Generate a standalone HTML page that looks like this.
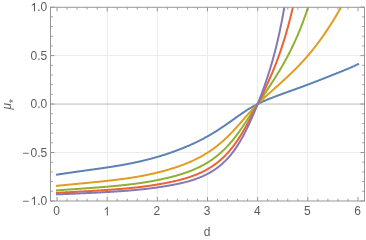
<!DOCTYPE html>
<html><head><meta charset="utf-8"><title>plot</title>
<style>html,body{margin:0;padding:0;background:#fff;}svg{display:block;}</style>
</head><body><div style="will-change:transform;width:366px;height:240px">
<svg width="366" height="240" viewBox="0 0 366 240">
<rect width="366" height="240" fill="#fff"/>
<defs><clipPath id="c"><rect x="50.50" y="7.30" width="314.00" height="193.70"/></clipPath></defs>
<path d="M107.5,7.30 V201.00 M157.5,7.30 V201.00 M207.5,7.30 V201.00 M257.5,7.30 V201.00 M307.5,7.30 V201.00 M50.50,152.5 H364.50 M50.50,55.5 H364.50" stroke="#ececec" stroke-width="1" fill="none"/>
<path d="M50.50,104.05 H364.50" stroke="#bbbbbb" stroke-width="1" fill="none"/>
<g clip-path="url(#c)" fill="none" stroke-width="2.0" stroke-linejoin="round" stroke-linecap="square">
<path d="M57.00,174.63 L57.50,174.55 L58.00,174.47 L58.51,174.39 L59.01,174.32 L59.51,174.24 L60.01,174.16 L60.51,174.09 L61.01,174.01 L61.52,173.94 L62.02,173.86 L62.52,173.79 L63.02,173.71 L63.52,173.64 L64.02,173.56 L64.53,173.49 L65.03,173.41 L65.53,173.34 L66.03,173.26 L66.53,173.19 L67.03,173.12 L67.53,173.04 L68.04,172.97 L68.54,172.90 L69.04,172.82 L69.54,172.75 L70.04,172.68 L70.55,172.61 L71.05,172.53 L71.55,172.46 L72.05,172.39 L72.55,172.32 L73.05,172.25 L73.56,172.18 L74.06,172.10 L74.56,172.03 L75.06,171.96 L75.56,171.89 L76.06,171.82 L76.56,171.75 L77.07,171.68 L77.57,171.61 L78.07,171.54 L78.57,171.47 L79.07,171.40 L79.58,171.33 L80.08,171.26 L80.58,171.19 L81.08,171.12 L81.58,171.05 L82.08,170.98 L82.59,170.91 L83.09,170.84 L83.59,170.77 L84.09,170.70 L84.59,170.63 L85.09,170.56 L85.59,170.49 L86.10,170.42 L86.60,170.35 L87.10,170.28 L87.60,170.21 L88.10,170.14 L88.61,170.07 L89.11,170.00 L89.61,169.93 L90.11,169.86 L90.61,169.79 L91.11,169.72 L91.62,169.65 L92.12,169.59 L92.62,169.52 L93.12,169.45 L93.62,169.38 L94.12,169.31 L94.62,169.23 L95.13,169.16 L95.63,169.09 L96.13,169.02 L96.63,168.95 L97.13,168.88 L97.63,168.81 L98.14,168.74 L98.64,168.67 L99.14,168.60 L99.64,168.53 L100.14,168.45 L100.64,168.38 L101.15,168.31 L101.65,168.24 L102.15,168.16 L102.65,168.09 L103.15,168.02 L103.66,167.95 L104.16,167.87 L104.66,167.80 L105.16,167.72 L105.66,167.65 L106.16,167.58 L106.66,167.50 L107.17,167.42 L107.67,167.35 L108.17,167.27 L108.67,167.20 L109.17,167.12 L109.67,167.04 L110.18,166.97 L110.68,166.89 L111.18,166.81 L111.68,166.73 L112.18,166.65 L112.69,166.57 L113.19,166.50 L113.69,166.42 L114.19,166.33 L114.69,166.25 L115.19,166.17 L115.69,166.09 L116.20,166.01 L116.70,165.93 L117.20,165.84 L117.70,165.76 L118.20,165.68 L118.70,165.59 L119.21,165.51 L119.71,165.42 L120.21,165.33 L120.71,165.25 L121.21,165.16 L121.72,165.07 L122.22,164.99 L122.72,164.90 L123.22,164.81 L123.72,164.72 L124.22,164.63 L124.72,164.54 L125.23,164.44 L125.73,164.35 L126.23,164.26 L126.73,164.16 L127.23,164.07 L127.73,163.97 L128.24,163.88 L128.74,163.78 L129.24,163.68 L129.74,163.59 L130.24,163.49 L130.75,163.39 L131.25,163.29 L131.75,163.19 L132.25,163.09 L132.75,162.98 L133.25,162.88 L133.75,162.78 L134.26,162.67 L134.76,162.57 L135.26,162.46 L135.76,162.35 L136.26,162.24 L136.76,162.13 L137.27,162.02 L137.77,161.91 L138.27,161.80 L138.77,161.69 L139.27,161.58 L139.78,161.46 L140.28,161.35 L140.78,161.23 L141.28,161.12 L141.78,161.00 L142.28,160.88 L142.78,160.76 L143.29,160.64 L143.79,160.52 L144.29,160.40 L144.79,160.28 L145.29,160.15 L145.80,160.03 L146.30,159.90 L146.80,159.78 L147.30,159.65 L147.80,159.52 L148.30,159.39 L148.81,159.26 L149.31,159.13 L149.81,159.00 L150.31,158.87 L150.81,158.73 L151.31,158.60 L151.81,158.47 L152.32,158.33 L152.82,158.19 L153.32,158.05 L153.82,157.91 L154.32,157.77 L154.82,157.63 L155.33,157.49 L155.83,157.35 L156.33,157.20 L156.83,157.06 L157.33,156.91 L157.84,156.77 L158.34,156.62 L158.84,156.47 L159.34,156.32 L159.84,156.17 L160.34,156.02 L160.84,155.86 L161.35,155.71 L161.85,155.56 L162.35,155.40 L162.85,155.24 L163.35,155.08 L163.85,154.93 L164.36,154.77 L164.86,154.60 L165.36,154.44 L165.86,154.28 L166.36,154.11 L166.87,153.95 L167.37,153.78 L167.87,153.62 L168.37,153.45 L168.87,153.28 L169.37,153.11 L169.88,152.94 L170.38,152.76 L170.88,152.59 L171.38,152.41 L171.88,152.24 L172.38,152.06 L172.88,151.88 L173.39,151.70 L173.89,151.52 L174.39,151.34 L174.89,151.16 L175.39,150.97 L175.89,150.79 L176.40,150.60 L176.90,150.42 L177.40,150.23 L177.90,150.04 L178.40,149.85 L178.91,149.65 L179.41,149.46 L179.91,149.27 L180.41,149.07 L180.91,148.87 L181.41,148.68 L181.92,148.48 L182.42,148.28 L182.92,148.07 L183.42,147.87 L183.92,147.67 L184.42,147.46 L184.93,147.25 L185.43,147.05 L185.93,146.84 L186.43,146.62 L186.93,146.41 L187.43,146.20 L187.93,145.98 L188.44,145.77 L188.94,145.55 L189.44,145.33 L189.94,145.11 L190.44,144.89 L190.94,144.66 L191.45,144.44 L191.95,144.21 L192.45,143.98 L192.95,143.75 L193.45,143.52 L193.95,143.29 L194.46,143.06 L194.96,142.82 L195.46,142.58 L195.96,142.34 L196.46,142.10 L196.97,141.86 L197.47,141.61 L197.97,141.37 L198.47,141.12 L198.97,140.87 L199.47,140.62 L199.97,140.37 L200.48,140.11 L200.98,139.86 L201.48,139.60 L201.98,139.34 L202.48,139.08 L202.99,138.81 L203.49,138.55 L203.99,138.28 L204.49,138.01 L204.99,137.74 L205.49,137.47 L206.00,137.19 L206.50,136.91 L207.00,136.64 L207.50,136.35 L208.00,136.07 L208.50,135.79 L209.00,135.50 L209.51,135.21 L210.01,134.92 L210.51,134.63 L211.01,134.33 L211.51,134.04 L212.01,133.74 L212.52,133.44 L213.02,133.13 L213.52,132.83 L214.02,132.52 L214.52,132.21 L215.02,131.90 L215.53,131.59 L216.03,131.28 L216.53,130.96 L217.03,130.64 L217.53,130.33 L218.03,130.00 L218.54,129.68 L219.04,129.36 L219.54,129.03 L220.04,128.70 L220.54,128.37 L221.04,128.04 L221.55,127.71 L222.05,127.37 L222.55,127.03 L223.05,126.70 L223.55,126.36 L224.06,126.02 L224.56,125.67 L225.06,125.33 L225.56,124.98 L226.06,124.64 L226.56,124.29 L227.06,123.94 L227.57,123.59 L228.07,123.24 L228.57,122.89 L229.07,122.54 L229.57,122.18 L230.07,121.83 L230.58,121.47 L231.08,121.12 L231.58,120.76 L232.08,120.40 L232.58,120.05 L233.09,119.69 L233.59,119.33 L234.09,118.97 L234.59,118.61 L235.09,118.26 L235.59,117.90 L236.09,117.54 L236.60,117.18 L237.10,116.83 L237.60,116.47 L238.10,116.12 L238.60,115.76 L239.10,115.41 L239.61,115.06 L240.11,114.71 L240.61,114.36 L241.11,114.01 L241.61,113.66 L242.11,113.32 L242.62,112.98 L243.12,112.64 L243.62,112.30 L244.12,111.96 L244.62,111.63 L245.12,111.29 L245.63,110.97 L246.13,110.64 L246.63,110.32 L247.13,109.99 L247.63,109.68 L248.13,109.36 L248.64,109.05 L249.14,108.74 L249.64,108.43 L250.14,108.13 L250.64,107.83 L251.15,107.54 L251.65,107.24 L252.15,106.95 L252.65,106.67 L253.15,106.39 L253.65,106.11 L254.16,105.83 L254.66,105.56 L255.16,105.29 L255.66,105.03 L256.16,104.77 L256.66,104.51 L257.16,104.25 L257.67,104.00 L258.17,103.75 L258.67,103.51 L259.17,103.26 L259.67,103.02 L260.17,102.79 L260.68,102.55 L261.18,102.32 L261.68,102.09 L262.18,101.86 L262.68,101.64 L263.19,101.41 L263.69,101.19 L264.19,100.98 L264.69,100.76 L265.19,100.54 L265.69,100.33 L266.19,100.12 L266.70,99.91 L267.20,99.70 L267.70,99.50 L268.20,99.29 L268.70,99.09 L269.21,98.89 L269.71,98.69 L270.21,98.49 L270.71,98.29 L271.21,98.09 L271.71,97.89 L272.22,97.70 L272.72,97.50 L273.22,97.31 L273.72,97.12 L274.22,96.92 L274.72,96.73 L275.23,96.54 L275.73,96.35 L276.23,96.16 L276.73,95.97 L277.23,95.78 L277.73,95.60 L278.24,95.41 L278.74,95.22 L279.24,95.04 L279.74,94.85 L280.24,94.66 L280.74,94.48 L281.25,94.29 L281.75,94.11 L282.25,93.92 L282.75,93.74 L283.25,93.56 L283.75,93.37 L284.25,93.19 L284.76,93.01 L285.26,92.83 L285.76,92.64 L286.26,92.46 L286.76,92.28 L287.26,92.10 L287.77,91.92 L288.27,91.74 L288.77,91.56 L289.27,91.38 L289.77,91.20 L290.27,91.02 L290.78,90.84 L291.28,90.66 L291.78,90.47 L292.28,90.29 L292.78,90.11 L293.28,89.93 L293.79,89.75 L294.29,89.57 L294.79,89.39 L295.29,89.21 L295.79,89.03 L296.30,88.85 L296.80,88.67 L297.30,88.48 L297.80,88.30 L298.30,88.12 L298.80,87.94 L299.30,87.75 L299.81,87.57 L300.31,87.39 L300.81,87.20 L301.31,87.02 L301.81,86.84 L302.31,86.65 L302.82,86.47 L303.32,86.28 L303.82,86.09 L304.32,85.91 L304.82,85.72 L305.32,85.54 L305.83,85.35 L306.33,85.16 L306.83,84.97 L307.33,84.79 L307.83,84.60 L308.33,84.41 L308.84,84.22 L309.34,84.03 L309.84,83.84 L310.34,83.65 L310.84,83.46 L311.35,83.27 L311.85,83.08 L312.35,82.89 L312.85,82.70 L313.35,82.50 L313.85,82.31 L314.35,82.12 L314.86,81.93 L315.36,81.73 L315.86,81.54 L316.36,81.34 L316.86,81.15 L317.37,80.96 L317.87,80.76 L318.37,80.56 L318.87,80.37 L319.37,80.17 L319.87,79.98 L320.38,79.78 L320.88,79.58 L321.38,79.39 L321.88,79.19 L322.38,78.99 L322.88,78.80 L323.38,78.60 L323.89,78.40 L324.39,78.20 L324.89,78.00 L325.39,77.80 L325.89,77.61 L326.39,77.41 L326.90,77.21 L327.40,77.01 L327.90,76.81 L328.40,76.61 L328.90,76.41 L329.40,76.21 L329.91,76.01 L330.41,75.81 L330.91,75.61 L331.41,75.41 L331.91,75.22 L332.42,75.02 L332.92,74.82 L333.42,74.62 L333.92,74.42 L334.42,74.22 L334.92,74.02 L335.42,73.82 L335.93,73.62 L336.43,73.42 L336.93,73.22 L337.43,73.02 L337.93,72.82 L338.44,72.62 L338.94,72.42 L339.44,72.22 L339.94,72.02 L340.44,71.82 L340.94,71.62 L341.44,71.41 L341.95,71.21 L342.45,71.01 L342.95,70.80 L343.45,70.60 L343.95,70.39 L344.45,70.19 L344.96,69.98 L345.46,69.78 L345.96,69.57 L346.46,69.36 L346.96,69.15 L347.46,68.94 L347.97,68.73 L348.47,68.52 L348.97,68.30 L349.47,68.09 L349.97,67.87 L350.48,67.66 L350.98,67.44 L351.48,67.22 L351.98,67.00 L352.48,66.77 L352.98,66.55 L353.49,66.32 L353.99,66.10 L354.49,65.87 L354.99,65.63 L355.49,65.40 L355.99,65.16 L356.49,64.93 L357.00,64.69 L357.50,64.45 L358.00,64.20" stroke="#5E81B5"/>
<path d="M57.00,185.80 L57.50,185.75 L58.00,185.70 L58.51,185.65 L59.01,185.60 L59.51,185.55 L60.01,185.50 L60.51,185.45 L61.01,185.40 L61.52,185.35 L62.02,185.31 L62.52,185.26 L63.02,185.21 L63.52,185.16 L64.02,185.11 L64.53,185.06 L65.03,185.01 L65.53,184.96 L66.03,184.91 L66.53,184.87 L67.03,184.82 L67.53,184.77 L68.04,184.72 L68.54,184.67 L69.04,184.62 L69.54,184.58 L70.04,184.53 L70.55,184.48 L71.05,184.43 L71.55,184.38 L72.05,184.34 L72.55,184.29 L73.05,184.24 L73.56,184.19 L74.06,184.15 L74.56,184.10 L75.06,184.05 L75.56,184.00 L76.06,183.95 L76.56,183.91 L77.07,183.86 L77.57,183.81 L78.07,183.76 L78.57,183.72 L79.07,183.67 L79.58,183.62 L80.08,183.57 L80.58,183.53 L81.08,183.48 L81.58,183.43 L82.08,183.38 L82.59,183.33 L83.09,183.29 L83.59,183.24 L84.09,183.19 L84.59,183.14 L85.09,183.09 L85.59,183.05 L86.10,183.00 L86.60,182.95 L87.10,182.90 L87.60,182.85 L88.10,182.80 L88.61,182.75 L89.11,182.71 L89.61,182.66 L90.11,182.61 L90.61,182.56 L91.11,182.51 L91.62,182.46 L92.12,182.41 L92.62,182.36 L93.12,182.31 L93.62,182.26 L94.12,182.21 L94.62,182.16 L95.13,182.11 L95.63,182.06 L96.13,182.01 L96.63,181.96 L97.13,181.91 L97.63,181.86 L98.14,181.80 L98.64,181.75 L99.14,181.70 L99.64,181.65 L100.14,181.60 L100.64,181.55 L101.15,181.49 L101.65,181.44 L102.15,181.39 L102.65,181.33 L103.15,181.28 L103.66,181.23 L104.16,181.17 L104.66,181.12 L105.16,181.07 L105.66,181.01 L106.16,180.96 L106.66,180.90 L107.17,180.85 L107.67,180.79 L108.17,180.74 L108.67,180.68 L109.17,180.62 L109.67,180.57 L110.18,180.51 L110.68,180.45 L111.18,180.39 L111.68,180.34 L112.18,180.28 L112.69,180.22 L113.19,180.16 L113.69,180.10 L114.19,180.04 L114.69,179.98 L115.19,179.92 L115.69,179.86 L116.20,179.80 L116.70,179.74 L117.20,179.67 L117.70,179.61 L118.20,179.55 L118.70,179.49 L119.21,179.42 L119.71,179.36 L120.21,179.29 L120.71,179.23 L121.21,179.16 L121.72,179.10 L122.22,179.03 L122.72,178.96 L123.22,178.89 L123.72,178.83 L124.22,178.76 L124.72,178.69 L125.23,178.62 L125.73,178.55 L126.23,178.48 L126.73,178.40 L127.23,178.33 L127.73,178.26 L128.24,178.19 L128.74,178.11 L129.24,178.04 L129.74,177.96 L130.24,177.89 L130.75,177.81 L131.25,177.73 L131.75,177.65 L132.25,177.57 L132.75,177.49 L133.25,177.41 L133.75,177.33 L134.26,177.25 L134.76,177.17 L135.26,177.09 L135.76,177.00 L136.26,176.92 L136.76,176.83 L137.27,176.75 L137.77,176.66 L138.27,176.57 L138.77,176.48 L139.27,176.39 L139.78,176.30 L140.28,176.21 L140.78,176.12 L141.28,176.03 L141.78,175.93 L142.28,175.84 L142.78,175.74 L143.29,175.65 L143.79,175.55 L144.29,175.45 L144.79,175.36 L145.29,175.26 L145.80,175.16 L146.30,175.05 L146.80,174.95 L147.30,174.85 L147.80,174.75 L148.30,174.64 L148.81,174.54 L149.31,174.43 L149.81,174.32 L150.31,174.21 L150.81,174.10 L151.31,173.99 L151.81,173.88 L152.32,173.77 L152.82,173.66 L153.32,173.54 L153.82,173.43 L154.32,173.31 L154.82,173.19 L155.33,173.08 L155.83,172.96 L156.33,172.84 L156.83,172.71 L157.33,172.59 L157.84,172.47 L158.34,172.34 L158.84,172.22 L159.34,172.09 L159.84,171.96 L160.34,171.83 L160.84,171.71 L161.35,171.57 L161.85,171.44 L162.35,171.31 L162.85,171.18 L163.35,171.04 L163.85,170.91 L164.36,170.77 L164.86,170.63 L165.36,170.49 L165.86,170.35 L166.36,170.21 L166.87,170.07 L167.37,169.92 L167.87,169.78 L168.37,169.63 L168.87,169.49 L169.37,169.34 L169.88,169.19 L170.38,169.04 L170.88,168.89 L171.38,168.73 L171.88,168.58 L172.38,168.42 L172.88,168.27 L173.39,168.11 L173.89,167.95 L174.39,167.79 L174.89,167.62 L175.39,167.46 L175.89,167.29 L176.40,167.13 L176.90,166.96 L177.40,166.79 L177.90,166.62 L178.40,166.44 L178.91,166.27 L179.41,166.09 L179.91,165.91 L180.41,165.73 L180.91,165.55 L181.41,165.37 L181.92,165.18 L182.42,165.00 L182.92,164.81 L183.42,164.62 L183.92,164.43 L184.42,164.23 L184.93,164.04 L185.43,163.84 L185.93,163.64 L186.43,163.44 L186.93,163.23 L187.43,163.03 L187.93,162.82 L188.44,162.61 L188.94,162.40 L189.44,162.18 L189.94,161.97 L190.44,161.75 L190.94,161.53 L191.45,161.30 L191.95,161.08 L192.45,160.85 L192.95,160.62 L193.45,160.39 L193.95,160.15 L194.46,159.91 L194.96,159.67 L195.46,159.43 L195.96,159.18 L196.46,158.93 L196.97,158.68 L197.47,158.43 L197.97,158.17 L198.47,157.91 L198.97,157.65 L199.47,157.39 L199.97,157.12 L200.48,156.85 L200.98,156.57 L201.48,156.29 L201.98,156.01 L202.48,155.73 L202.99,155.44 L203.49,155.15 L203.99,154.86 L204.49,154.56 L204.99,154.26 L205.49,153.96 L206.00,153.65 L206.50,153.34 L207.00,153.02 L207.50,152.71 L208.00,152.38 L208.50,152.06 L209.00,151.73 L209.51,151.40 L210.01,151.06 L210.51,150.72 L211.01,150.38 L211.51,150.03 L212.01,149.68 L212.52,149.32 L213.02,148.96 L213.52,148.60 L214.02,148.23 L214.52,147.86 L215.02,147.49 L215.53,147.11 L216.03,146.72 L216.53,146.33 L217.03,145.94 L217.53,145.54 L218.03,145.14 L218.54,144.74 L219.04,144.33 L219.54,143.91 L220.04,143.49 L220.54,143.07 L221.04,142.64 L221.55,142.21 L222.05,141.78 L222.55,141.33 L223.05,140.89 L223.55,140.44 L224.06,139.99 L224.56,139.53 L225.06,139.06 L225.56,138.60 L226.06,138.12 L226.56,137.65 L227.06,137.17 L227.57,136.68 L228.07,136.19 L228.57,135.70 L229.07,135.20 L229.57,134.70 L230.07,134.19 L230.58,133.68 L231.08,133.16 L231.58,132.65 L232.08,132.12 L232.58,131.60 L233.09,131.07 L233.59,130.53 L234.09,129.99 L234.59,129.45 L235.09,128.91 L235.59,128.36 L236.09,127.81 L236.60,127.25 L237.10,126.70 L237.60,126.14 L238.10,125.58 L238.60,125.01 L239.10,124.45 L239.61,123.88 L240.11,123.31 L240.61,122.74 L241.11,122.17 L241.61,121.60 L242.11,121.03 L242.62,120.45 L243.12,119.88 L243.62,119.30 L244.12,118.73 L244.62,118.16 L245.12,117.58 L245.63,117.01 L246.13,116.44 L246.63,115.87 L247.13,115.30 L247.63,114.73 L248.13,114.17 L248.64,113.60 L249.14,113.04 L249.64,112.48 L250.14,111.93 L250.64,111.38 L251.15,110.83 L251.65,110.28 L252.15,109.74 L252.65,109.20 L253.15,108.66 L253.65,108.13 L254.16,107.60 L254.66,107.07 L255.16,106.55 L255.66,106.03 L256.16,105.52 L256.66,105.01 L257.16,104.50 L257.67,104.00 L258.17,103.50 L258.67,103.01 L259.17,102.51 L259.67,102.03 L260.17,101.54 L260.68,101.06 L261.18,100.58 L261.68,100.10 L262.18,99.63 L262.68,99.16 L263.19,98.69 L263.69,98.22 L264.19,97.76 L264.69,97.30 L265.19,96.84 L265.69,96.38 L266.19,95.92 L266.70,95.47 L267.20,95.01 L267.70,94.56 L268.20,94.11 L268.70,93.66 L269.21,93.21 L269.71,92.77 L270.21,92.32 L270.71,91.87 L271.21,91.43 L271.71,90.98 L272.22,90.53 L272.72,90.09 L273.22,89.64 L273.72,89.20 L274.22,88.75 L274.72,88.31 L275.23,87.86 L275.73,87.42 L276.23,86.97 L276.73,86.52 L277.23,86.07 L277.73,85.63 L278.24,85.18 L278.74,84.73 L279.24,84.28 L279.74,83.82 L280.24,83.37 L280.74,82.92 L281.25,82.46 L281.75,82.01 L282.25,81.55 L282.75,81.09 L283.25,80.64 L283.75,80.18 L284.25,79.72 L284.76,79.26 L285.26,78.79 L285.76,78.33 L286.26,77.86 L286.76,77.40 L287.26,76.93 L287.77,76.46 L288.27,75.99 L288.77,75.52 L289.27,75.04 L289.77,74.57 L290.27,74.09 L290.78,73.61 L291.28,73.13 L291.78,72.64 L292.28,72.16 L292.78,71.67 L293.28,71.18 L293.79,70.68 L294.29,70.19 L294.79,69.69 L295.29,69.19 L295.79,68.69 L296.30,68.18 L296.80,67.67 L297.30,67.16 L297.80,66.65 L298.30,66.13 L298.80,65.61 L299.30,65.09 L299.81,64.56 L300.31,64.03 L300.81,63.50 L301.31,62.96 L301.81,62.42 L302.31,61.88 L302.82,61.33 L303.32,60.78 L303.82,60.23 L304.32,59.67 L304.82,59.11 L305.32,58.55 L305.83,57.98 L306.33,57.41 L306.83,56.84 L307.33,56.26 L307.83,55.67 L308.33,55.09 L308.84,54.50 L309.34,53.90 L309.84,53.30 L310.34,52.70 L310.84,52.10 L311.35,51.49 L311.85,50.87 L312.35,50.25 L312.85,49.63 L313.35,49.00 L313.85,48.37 L314.35,47.73 L314.86,47.09 L315.36,46.45 L315.86,45.80 L316.36,45.15 L316.86,44.49 L317.37,43.83 L317.87,43.16 L318.37,42.49 L318.87,41.81 L319.37,41.13 L319.87,40.45 L320.38,39.76 L320.88,39.07 L321.38,38.37 L321.88,37.67 L322.38,36.96 L322.88,36.25 L323.38,35.53 L323.89,34.81 L324.39,34.09 L324.89,33.36 L325.39,32.62 L325.89,31.88 L326.39,31.14 L326.90,30.39 L327.40,29.64 L327.90,28.88 L328.40,28.12 L328.90,27.35 L329.40,26.58 L329.91,25.80 L330.41,25.02 L330.91,24.23 L331.41,23.44 L331.91,22.65 L332.42,21.85 L332.92,21.05 L333.42,20.24 L333.92,19.43 L334.42,18.61 L334.92,17.79 L335.42,16.96 L335.93,16.13 L336.43,15.29 L336.93,14.45 L337.43,13.60 L337.93,12.75 L338.44,11.89 L338.94,11.02 L339.44,10.15 L339.94,9.27 L340.44,8.38 L340.94,7.49 L341.44,6.59 L341.95,5.68 L342.45,4.77 L342.95,3.84 L343.45,2.91 L343.95,1.97 L344.45,1.02 L344.96,0.06 L345.46,-0.91 L345.96,-1.89 L346.46,-2.88 L346.96,-3.88 L347.46,-4.89 L347.97,-5.91 L348.47,-6.94 L348.97,-7.99 L349.47,-9.05 L349.97,-10.12 L350.48,-11.21 L350.98,-12.31 L351.48,-13.43 L351.98,-14.56 L352.48,-15.71 L352.98,-16.87 L353.49,-18.06 L353.99,-19.26 L354.49,-20.47 L354.99,-21.71 L355.49,-22.97 L355.99,-24.25 L356.49,-25.55 L357.00,-26.88 L357.50,-28.22 L358.00,-29.60" stroke="#E19C24"/>
<path d="M57.00,190.36 L57.50,190.32 L58.00,190.29 L58.51,190.25 L59.01,190.21 L59.51,190.18 L60.01,190.14 L60.51,190.11 L61.01,190.07 L61.52,190.04 L62.02,190.00 L62.52,189.97 L63.02,189.93 L63.52,189.90 L64.02,189.86 L64.53,189.83 L65.03,189.79 L65.53,189.76 L66.03,189.72 L66.53,189.69 L67.03,189.65 L67.53,189.62 L68.04,189.58 L68.54,189.55 L69.04,189.51 L69.54,189.48 L70.04,189.44 L70.55,189.41 L71.05,189.37 L71.55,189.34 L72.05,189.30 L72.55,189.27 L73.05,189.23 L73.56,189.20 L74.06,189.16 L74.56,189.13 L75.06,189.10 L75.56,189.06 L76.06,189.03 L76.56,188.99 L77.07,188.96 L77.57,188.92 L78.07,188.89 L78.57,188.85 L79.07,188.82 L79.58,188.78 L80.08,188.75 L80.58,188.71 L81.08,188.68 L81.58,188.64 L82.08,188.61 L82.59,188.57 L83.09,188.53 L83.59,188.50 L84.09,188.46 L84.59,188.43 L85.09,188.39 L85.59,188.36 L86.10,188.32 L86.60,188.28 L87.10,188.25 L87.60,188.21 L88.10,188.17 L88.61,188.14 L89.11,188.10 L89.61,188.06 L90.11,188.03 L90.61,187.99 L91.11,187.95 L91.62,187.92 L92.12,187.88 L92.62,187.84 L93.12,187.80 L93.62,187.76 L94.12,187.73 L94.62,187.69 L95.13,187.65 L95.63,187.61 L96.13,187.57 L96.63,187.53 L97.13,187.49 L97.63,187.45 L98.14,187.42 L98.64,187.38 L99.14,187.34 L99.64,187.30 L100.14,187.26 L100.64,187.22 L101.15,187.18 L101.65,187.14 L102.15,187.10 L102.65,187.05 L103.15,187.01 L103.66,186.97 L104.16,186.93 L104.66,186.89 L105.16,186.85 L105.66,186.81 L106.16,186.76 L106.66,186.72 L107.17,186.68 L107.67,186.64 L108.17,186.59 L108.67,186.55 L109.17,186.51 L109.67,186.46 L110.18,186.42 L110.68,186.37 L111.18,186.33 L111.68,186.28 L112.18,186.24 L112.69,186.19 L113.19,186.15 L113.69,186.10 L114.19,186.06 L114.69,186.01 L115.19,185.96 L115.69,185.91 L116.20,185.87 L116.70,185.82 L117.20,185.77 L117.70,185.72 L118.20,185.67 L118.70,185.62 L119.21,185.57 L119.71,185.52 L120.21,185.47 L120.71,185.42 L121.21,185.37 L121.72,185.32 L122.22,185.27 L122.72,185.21 L123.22,185.16 L123.72,185.11 L124.22,185.05 L124.72,185.00 L125.23,184.94 L125.73,184.89 L126.23,184.83 L126.73,184.78 L127.23,184.72 L127.73,184.66 L128.24,184.60 L128.74,184.55 L129.24,184.49 L129.74,184.43 L130.24,184.37 L130.75,184.31 L131.25,184.25 L131.75,184.18 L132.25,184.12 L132.75,184.06 L133.25,184.00 L133.75,183.93 L134.26,183.87 L134.76,183.80 L135.26,183.74 L135.76,183.67 L136.26,183.60 L136.76,183.53 L137.27,183.47 L137.77,183.40 L138.27,183.33 L138.77,183.26 L139.27,183.18 L139.78,183.11 L140.28,183.04 L140.78,182.97 L141.28,182.89 L141.78,182.82 L142.28,182.74 L142.78,182.67 L143.29,182.59 L143.79,182.51 L144.29,182.43 L144.79,182.35 L145.29,182.27 L145.80,182.19 L146.30,182.11 L146.80,182.03 L147.30,181.95 L147.80,181.86 L148.30,181.78 L148.81,181.69 L149.31,181.61 L149.81,181.52 L150.31,181.43 L150.81,181.34 L151.31,181.25 L151.81,181.16 L152.32,181.07 L152.82,180.98 L153.32,180.89 L153.82,180.79 L154.32,180.70 L154.82,180.60 L155.33,180.51 L155.83,180.41 L156.33,180.31 L156.83,180.21 L157.33,180.11 L157.84,180.01 L158.34,179.91 L158.84,179.80 L159.34,179.70 L159.84,179.59 L160.34,179.49 L160.84,179.38 L161.35,179.27 L161.85,179.16 L162.35,179.05 L162.85,178.94 L163.35,178.83 L163.85,178.72 L164.36,178.61 L164.86,178.49 L165.36,178.38 L165.86,178.27 L166.36,178.15 L166.87,178.03 L167.37,177.91 L167.87,177.79 L168.37,177.67 L168.87,177.55 L169.37,177.43 L169.88,177.31 L170.38,177.18 L170.88,177.06 L171.38,176.93 L171.88,176.80 L172.38,176.67 L172.88,176.54 L173.39,176.41 L173.89,176.28 L174.39,176.14 L174.89,176.00 L175.39,175.87 L175.89,175.73 L176.40,175.59 L176.90,175.45 L177.40,175.30 L177.90,175.16 L178.40,175.01 L178.91,174.86 L179.41,174.71 L179.91,174.56 L180.41,174.41 L180.91,174.26 L181.41,174.10 L181.92,173.94 L182.42,173.78 L182.92,173.62 L183.42,173.46 L183.92,173.29 L184.42,173.12 L184.93,172.95 L185.43,172.78 L185.93,172.61 L186.43,172.43 L186.93,172.26 L187.43,172.08 L187.93,171.90 L188.44,171.71 L188.94,171.52 L189.44,171.34 L189.94,171.14 L190.44,170.95 L190.94,170.76 L191.45,170.56 L191.95,170.36 L192.45,170.15 L192.95,169.95 L193.45,169.74 L193.95,169.52 L194.46,169.31 L194.96,169.09 L195.46,168.87 L195.96,168.65 L196.46,168.42 L196.97,168.19 L197.47,167.96 L197.97,167.72 L198.47,167.49 L198.97,167.24 L199.47,167.00 L199.97,166.75 L200.48,166.50 L200.98,166.24 L201.48,165.98 L201.98,165.72 L202.48,165.45 L202.99,165.18 L203.49,164.91 L203.99,164.63 L204.49,164.35 L204.99,164.06 L205.49,163.77 L206.00,163.48 L206.50,163.18 L207.00,162.88 L207.50,162.57 L208.00,162.26 L208.50,161.95 L209.00,161.63 L209.51,161.31 L210.01,160.98 L210.51,160.65 L211.01,160.31 L211.51,159.97 L212.01,159.62 L212.52,159.27 L213.02,158.91 L213.52,158.55 L214.02,158.18 L214.52,157.81 L215.02,157.43 L215.53,157.05 L216.03,156.66 L216.53,156.27 L217.03,155.87 L217.53,155.46 L218.03,155.05 L218.54,154.63 L219.04,154.21 L219.54,153.78 L220.04,153.35 L220.54,152.90 L221.04,152.46 L221.55,152.00 L222.05,151.54 L222.55,151.08 L223.05,150.60 L223.55,150.13 L224.06,149.64 L224.56,149.15 L225.06,148.65 L225.56,148.14 L226.06,147.63 L226.56,147.11 L227.06,146.58 L227.57,146.05 L228.07,145.50 L228.57,144.96 L229.07,144.40 L229.57,143.84 L230.07,143.27 L230.58,142.69 L231.08,142.10 L231.58,141.51 L232.08,140.91 L232.58,140.31 L233.09,139.69 L233.59,139.07 L234.09,138.44 L234.59,137.81 L235.09,137.16 L235.59,136.52 L236.09,135.86 L236.60,135.20 L237.10,134.53 L237.60,133.85 L238.10,133.17 L238.60,132.48 L239.10,131.79 L239.61,131.09 L240.11,130.38 L240.61,129.67 L241.11,128.95 L241.61,128.23 L242.11,127.51 L242.62,126.78 L243.12,126.04 L243.62,125.30 L244.12,124.56 L244.62,123.81 L245.12,123.06 L245.63,122.31 L246.13,121.55 L246.63,120.79 L247.13,120.03 L247.63,119.27 L248.13,118.50 L248.64,117.74 L249.14,116.97 L249.64,116.20 L250.14,115.43 L250.64,114.66 L251.15,113.90 L251.65,113.13 L252.15,112.36 L252.65,111.59 L253.15,110.83 L253.65,110.06 L254.16,109.30 L254.66,108.54 L255.16,107.78 L255.66,107.02 L256.16,106.26 L256.66,105.51 L257.16,104.75 L257.67,104.00 L258.17,103.25 L258.67,102.50 L259.17,101.75 L259.67,101.01 L260.17,100.26 L260.68,99.52 L261.18,98.78 L261.68,98.04 L262.18,97.29 L262.68,96.55 L263.19,95.81 L263.69,95.07 L264.19,94.33 L264.69,93.59 L265.19,92.85 L265.69,92.11 L266.19,91.37 L266.70,90.62 L267.20,89.88 L267.70,89.13 L268.20,88.38 L268.70,87.63 L269.21,86.88 L269.71,86.13 L270.21,85.37 L270.71,84.61 L271.21,83.85 L271.71,83.09 L272.22,82.32 L272.72,81.55 L273.22,80.77 L273.72,79.99 L274.22,79.21 L274.72,78.42 L275.23,77.63 L275.73,76.84 L276.23,76.04 L276.73,75.23 L277.23,74.42 L277.73,73.60 L278.24,72.78 L278.74,71.95 L279.24,71.12 L279.74,70.28 L280.24,69.44 L280.74,68.59 L281.25,67.73 L281.75,66.86 L282.25,66.00 L282.75,65.12 L283.25,64.24 L283.75,63.35 L284.25,62.45 L284.76,61.55 L285.26,60.64 L285.76,59.72 L286.26,58.80 L286.76,57.86 L287.26,56.92 L287.77,55.97 L288.27,55.02 L288.77,54.05 L289.27,53.08 L289.77,52.09 L290.27,51.10 L290.78,50.09 L291.28,49.08 L291.78,48.06 L292.28,47.02 L292.78,45.98 L293.28,44.92 L293.79,43.85 L294.29,42.77 L294.79,41.68 L295.29,40.58 L295.79,39.46 L296.30,38.33 L296.80,37.18 L297.30,36.03 L297.80,34.86 L298.30,33.67 L298.80,32.47 L299.30,31.26 L299.81,30.03 L300.31,28.78 L300.81,27.52 L301.31,26.24 L301.81,24.94 L302.31,23.63 L302.82,22.30 L303.32,20.95 L303.82,19.59 L304.32,18.20 L304.82,16.79 L305.32,15.37 L305.83,13.93 L306.33,12.46 L306.83,10.98 L307.33,9.47 L307.83,7.94 L308.33,6.39 L308.84,4.81 L309.34,3.22 L309.84,1.60 L310.34,-0.05 L310.84,-1.72 L311.35,-3.41 L311.85,-5.14 L312.35,-6.88 L312.85,-8.66 L313.35,-10.46 L313.85,-12.29 L314.35,-14.16 L314.86,-16.05 L315.36,-17.97 L315.86,-19.92 L316.36,-21.90 L316.86,-23.92 L317.37,-25.97 L317.87,-28.05 L318.37,-30.17 L318.87,-32.32 L319.37,-34.51 L319.87,-36.74 L320.38,-39.00 L320.88,-41.31 L321.38,-43.65 L321.88,-46.03 L322.38,-48.46" stroke="#8FB032"/>
<path d="M57.00,192.83 L57.50,192.80 L58.00,192.78 L58.51,192.75 L59.01,192.72 L59.51,192.69 L60.01,192.67 L60.51,192.64 L61.01,192.61 L61.52,192.59 L62.02,192.56 L62.52,192.53 L63.02,192.51 L63.52,192.48 L64.02,192.45 L64.53,192.42 L65.03,192.40 L65.53,192.37 L66.03,192.34 L66.53,192.32 L67.03,192.29 L67.53,192.26 L68.04,192.24 L68.54,192.21 L69.04,192.18 L69.54,192.16 L70.04,192.13 L70.55,192.10 L71.05,192.08 L71.55,192.05 L72.05,192.02 L72.55,192.00 L73.05,191.97 L73.56,191.94 L74.06,191.92 L74.56,191.89 L75.06,191.86 L75.56,191.84 L76.06,191.81 L76.56,191.78 L77.07,191.76 L77.57,191.73 L78.07,191.70 L78.57,191.68 L79.07,191.65 L79.58,191.62 L80.08,191.59 L80.58,191.57 L81.08,191.54 L81.58,191.51 L82.08,191.48 L82.59,191.46 L83.09,191.43 L83.59,191.40 L84.09,191.37 L84.59,191.34 L85.09,191.32 L85.59,191.29 L86.10,191.26 L86.60,191.23 L87.10,191.20 L87.60,191.17 L88.10,191.14 L88.61,191.12 L89.11,191.09 L89.61,191.06 L90.11,191.03 L90.61,191.00 L91.11,190.97 L91.62,190.94 L92.12,190.91 L92.62,190.88 L93.12,190.85 L93.62,190.82 L94.12,190.79 L94.62,190.76 L95.13,190.72 L95.63,190.69 L96.13,190.66 L96.63,190.63 L97.13,190.60 L97.63,190.57 L98.14,190.54 L98.64,190.50 L99.14,190.47 L99.64,190.44 L100.14,190.41 L100.64,190.38 L101.15,190.34 L101.65,190.31 L102.15,190.28 L102.65,190.24 L103.15,190.21 L103.66,190.18 L104.16,190.14 L104.66,190.11 L105.16,190.08 L105.66,190.04 L106.16,190.01 L106.66,189.97 L107.17,189.94 L107.67,189.91 L108.17,189.87 L108.67,189.84 L109.17,189.80 L109.67,189.76 L110.18,189.73 L110.68,189.69 L111.18,189.66 L111.68,189.62 L112.18,189.58 L112.69,189.55 L113.19,189.51 L113.69,189.47 L114.19,189.43 L114.69,189.40 L115.19,189.36 L115.69,189.32 L116.20,189.28 L116.70,189.24 L117.20,189.20 L117.70,189.16 L118.20,189.12 L118.70,189.08 L119.21,189.04 L119.71,189.00 L120.21,188.96 L120.71,188.92 L121.21,188.88 L121.72,188.83 L122.22,188.79 L122.72,188.75 L123.22,188.71 L123.72,188.66 L124.22,188.62 L124.72,188.57 L125.23,188.53 L125.73,188.48 L126.23,188.44 L126.73,188.39 L127.23,188.34 L127.73,188.30 L128.24,188.25 L128.74,188.20 L129.24,188.15 L129.74,188.11 L130.24,188.06 L130.75,188.01 L131.25,187.96 L131.75,187.91 L132.25,187.85 L132.75,187.80 L133.25,187.75 L133.75,187.70 L134.26,187.64 L134.76,187.59 L135.26,187.54 L135.76,187.48 L136.26,187.43 L136.76,187.37 L137.27,187.31 L137.77,187.26 L138.27,187.20 L138.77,187.14 L139.27,187.08 L139.78,187.02 L140.28,186.96 L140.78,186.90 L141.28,186.84 L141.78,186.78 L142.28,186.72 L142.78,186.65 L143.29,186.59 L143.79,186.53 L144.29,186.46 L144.79,186.39 L145.29,186.33 L145.80,186.26 L146.30,186.19 L146.80,186.13 L147.30,186.06 L147.80,185.99 L148.30,185.92 L148.81,185.85 L149.31,185.77 L149.81,185.70 L150.31,185.63 L150.81,185.55 L151.31,185.48 L151.81,185.40 L152.32,185.33 L152.82,185.25 L153.32,185.17 L153.82,185.09 L154.32,185.02 L154.82,184.94 L155.33,184.85 L155.83,184.77 L156.33,184.69 L156.83,184.61 L157.33,184.52 L157.84,184.44 L158.34,184.35 L158.84,184.26 L159.34,184.18 L159.84,184.09 L160.34,184.00 L160.84,183.91 L161.35,183.82 L161.85,183.73 L162.35,183.63 L162.85,183.54 L163.35,183.45 L163.85,183.36 L164.36,183.26 L164.86,183.17 L165.36,183.07 L165.86,182.97 L166.36,182.88 L166.87,182.78 L167.37,182.68 L167.87,182.58 L168.37,182.48 L168.87,182.38 L169.37,182.28 L169.88,182.17 L170.38,182.07 L170.88,181.96 L171.38,181.86 L171.88,181.75 L172.38,181.64 L172.88,181.53 L173.39,181.42 L173.89,181.31 L174.39,181.20 L174.89,181.08 L175.39,180.97 L175.89,180.85 L176.40,180.73 L176.90,180.61 L177.40,180.49 L177.90,180.37 L178.40,180.24 L178.91,180.12 L179.41,179.99 L179.91,179.86 L180.41,179.73 L180.91,179.60 L181.41,179.47 L181.92,179.33 L182.42,179.20 L182.92,179.06 L183.42,178.92 L183.92,178.78 L184.42,178.63 L184.93,178.49 L185.43,178.34 L185.93,178.19 L186.43,178.04 L186.93,177.89 L187.43,177.73 L187.93,177.57 L188.44,177.41 L188.94,177.25 L189.44,177.08 L189.94,176.92 L190.44,176.75 L190.94,176.58 L191.45,176.40 L191.95,176.23 L192.45,176.05 L192.95,175.86 L193.45,175.68 L193.95,175.49 L194.46,175.30 L194.96,175.11 L195.46,174.91 L195.96,174.71 L196.46,174.51 L196.97,174.31 L197.47,174.10 L197.97,173.89 L198.47,173.67 L198.97,173.45 L199.47,173.23 L199.97,173.01 L200.48,172.78 L200.98,172.55 L201.48,172.31 L201.98,172.07 L202.48,171.83 L202.99,171.58 L203.49,171.33 L203.99,171.07 L204.49,170.81 L204.99,170.55 L205.49,170.28 L206.00,170.01 L206.50,169.74 L207.00,169.46 L207.50,169.17 L208.00,168.89 L208.50,168.59 L209.00,168.30 L209.51,167.99 L210.01,167.69 L210.51,167.37 L211.01,167.06 L211.51,166.74 L212.01,166.41 L212.52,166.08 L213.02,165.74 L213.52,165.39 L214.02,165.04 L214.52,164.69 L215.02,164.33 L215.53,163.96 L216.03,163.59 L216.53,163.21 L217.03,162.83 L217.53,162.43 L218.03,162.04 L218.54,161.63 L219.04,161.22 L219.54,160.80 L220.04,160.38 L220.54,159.94 L221.04,159.51 L221.55,159.06 L222.05,158.60 L222.55,158.14 L223.05,157.67 L223.55,157.19 L224.06,156.71 L224.56,156.22 L225.06,155.71 L225.56,155.20 L226.06,154.68 L226.56,154.16 L227.06,153.62 L227.57,153.08 L228.07,152.52 L228.57,151.96 L229.07,151.39 L229.57,150.80 L230.07,150.21 L230.58,149.61 L231.08,149.00 L231.58,148.38 L232.08,147.75 L232.58,147.11 L233.09,146.46 L233.59,145.80 L234.09,145.13 L234.59,144.45 L235.09,143.76 L235.59,143.06 L236.09,142.34 L236.60,141.62 L237.10,140.89 L237.60,140.15 L238.10,139.40 L238.60,138.64 L239.10,137.86 L239.61,137.08 L240.11,136.29 L240.61,135.49 L241.11,134.68 L241.61,133.86 L242.11,133.03 L242.62,132.19 L243.12,131.35 L243.62,130.49 L244.12,129.63 L244.62,128.75 L245.12,127.87 L245.63,126.98 L246.13,126.09 L246.63,125.18 L247.13,124.27 L247.63,123.36 L248.13,122.43 L248.64,121.50 L249.14,120.56 L249.64,119.62 L250.14,118.68 L250.64,117.72 L251.15,116.77 L251.65,115.81 L252.15,114.84 L252.65,113.87 L253.15,112.90 L253.65,111.92 L254.16,110.94 L254.66,109.96 L255.16,108.97 L255.66,107.98 L256.16,106.99 L256.66,106.00 L257.16,105.00 L257.67,104.00 L258.17,103.00 L258.67,101.99 L259.17,100.98 L259.67,99.97 L260.17,98.95 L260.68,97.93 L261.18,96.91 L261.68,95.88 L262.18,94.85 L262.68,93.81 L263.19,92.77 L263.69,91.72 L264.19,90.67 L264.69,89.61 L265.19,88.55 L265.69,87.48 L266.19,86.40 L266.70,85.32 L267.20,84.22 L267.70,83.12 L268.20,82.02 L268.70,80.90 L269.21,79.77 L269.71,78.64 L270.21,77.49 L270.71,76.34 L271.21,75.17 L271.71,73.99 L272.22,72.80 L272.72,71.60 L273.22,70.39 L273.72,69.16 L274.22,67.92 L274.72,66.67 L275.23,65.40 L275.73,64.12 L276.23,62.82 L276.73,61.50 L277.23,60.17 L277.73,58.82 L278.24,57.46 L278.74,56.07 L279.24,54.67 L279.74,53.25 L280.24,51.81 L280.74,50.35 L281.25,48.87 L281.75,47.37 L282.25,45.85 L282.75,44.30 L283.25,42.74 L283.75,41.15 L284.25,39.54 L284.76,37.90 L285.26,36.24 L285.76,34.55 L286.26,32.84 L286.76,31.10 L287.26,29.33 L287.77,27.54 L288.27,25.71 L288.77,23.85 L289.27,21.96 L289.77,20.03 L290.27,18.08 L290.78,16.08 L291.28,14.05 L291.78,11.98 L292.28,9.87 L292.78,7.72 L293.28,5.53 L293.79,3.30 L294.29,1.02 L294.79,-1.31 L295.29,-3.69 L295.79,-6.11 L296.30,-8.59 L296.80,-11.13 L297.30,-13.72 L297.80,-16.36 L298.30,-19.07 L298.80,-21.84 L299.30,-24.68 L299.81,-27.58 L300.31,-30.55 L300.81,-33.60 L301.31,-36.72 L301.81,-39.93 L302.31,-43.21 L302.82,-46.58 L303.32,-50.03" stroke="#EB6235"/>
<path d="M57.00,194.38 L57.50,194.36 L58.00,194.34 L58.51,194.32 L59.01,194.30 L59.51,194.28 L60.01,194.25 L60.51,194.23 L61.01,194.21 L61.52,194.19 L62.02,194.17 L62.52,194.15 L63.02,194.13 L63.52,194.10 L64.02,194.08 L64.53,194.06 L65.03,194.04 L65.53,194.02 L66.03,194.00 L66.53,193.98 L67.03,193.96 L67.53,193.93 L68.04,193.91 L68.54,193.89 L69.04,193.87 L69.54,193.85 L70.04,193.83 L70.55,193.81 L71.05,193.78 L71.55,193.76 L72.05,193.74 L72.55,193.72 L73.05,193.70 L73.56,193.68 L74.06,193.66 L74.56,193.64 L75.06,193.61 L75.56,193.59 L76.06,193.57 L76.56,193.55 L77.07,193.53 L77.57,193.51 L78.07,193.48 L78.57,193.46 L79.07,193.44 L79.58,193.42 L80.08,193.40 L80.58,193.37 L81.08,193.35 L81.58,193.33 L82.08,193.31 L82.59,193.28 L83.09,193.26 L83.59,193.24 L84.09,193.22 L84.59,193.19 L85.09,193.17 L85.59,193.15 L86.10,193.12 L86.60,193.10 L87.10,193.08 L87.60,193.05 L88.10,193.03 L88.61,193.01 L89.11,192.98 L89.61,192.96 L90.11,192.93 L90.61,192.91 L91.11,192.88 L91.62,192.86 L92.12,192.83 L92.62,192.81 L93.12,192.78 L93.62,192.76 L94.12,192.73 L94.62,192.71 L95.13,192.68 L95.63,192.65 L96.13,192.63 L96.63,192.60 L97.13,192.58 L97.63,192.55 L98.14,192.52 L98.64,192.50 L99.14,192.47 L99.64,192.44 L100.14,192.42 L100.64,192.39 L101.15,192.36 L101.65,192.33 L102.15,192.31 L102.65,192.28 L103.15,192.25 L103.66,192.22 L104.16,192.19 L104.66,192.17 L105.16,192.14 L105.66,192.11 L106.16,192.08 L106.66,192.05 L107.17,192.02 L107.67,191.99 L108.17,191.97 L108.67,191.94 L109.17,191.91 L109.67,191.88 L110.18,191.85 L110.68,191.82 L111.18,191.79 L111.68,191.75 L112.18,191.72 L112.69,191.69 L113.19,191.66 L113.69,191.63 L114.19,191.60 L114.69,191.57 L115.19,191.53 L115.69,191.50 L116.20,191.47 L116.70,191.44 L117.20,191.40 L117.70,191.37 L118.20,191.34 L118.70,191.30 L119.21,191.27 L119.71,191.23 L120.21,191.20 L120.71,191.16 L121.21,191.13 L121.72,191.09 L122.22,191.06 L122.72,191.02 L123.22,190.98 L123.72,190.95 L124.22,190.91 L124.72,190.87 L125.23,190.83 L125.73,190.80 L126.23,190.76 L126.73,190.72 L127.23,190.68 L127.73,190.64 L128.24,190.60 L128.74,190.56 L129.24,190.52 L129.74,190.48 L130.24,190.44 L130.75,190.39 L131.25,190.35 L131.75,190.31 L132.25,190.27 L132.75,190.22 L133.25,190.18 L133.75,190.13 L134.26,190.09 L134.76,190.04 L135.26,190.00 L135.76,189.95 L136.26,189.90 L136.76,189.85 L137.27,189.81 L137.77,189.76 L138.27,189.71 L138.77,189.66 L139.27,189.61 L139.78,189.56 L140.28,189.51 L140.78,189.46 L141.28,189.40 L141.78,189.35 L142.28,189.30 L142.78,189.25 L143.29,189.19 L143.79,189.14 L144.29,189.08 L144.79,189.03 L145.29,188.97 L145.80,188.91 L146.30,188.85 L146.80,188.80 L147.30,188.74 L147.80,188.68 L148.30,188.62 L148.81,188.56 L149.31,188.50 L149.81,188.43 L150.31,188.37 L150.81,188.31 L151.31,188.24 L151.81,188.18 L152.32,188.11 L152.82,188.05 L153.32,187.98 L153.82,187.91 L154.32,187.85 L154.82,187.78 L155.33,187.71 L155.83,187.64 L156.33,187.57 L156.83,187.50 L157.33,187.42 L157.84,187.35 L158.34,187.28 L158.84,187.20 L159.34,187.13 L159.84,187.05 L160.34,186.97 L160.84,186.90 L161.35,186.82 L161.85,186.74 L162.35,186.66 L162.85,186.58 L163.35,186.50 L163.85,186.42 L164.36,186.34 L164.86,186.26 L165.36,186.18 L165.86,186.10 L166.36,186.02 L166.87,185.93 L167.37,185.85 L167.87,185.76 L168.37,185.68 L168.87,185.59 L169.37,185.50 L169.88,185.42 L170.38,185.33 L170.88,185.24 L171.38,185.15 L171.88,185.06 L172.38,184.96 L172.88,184.87 L173.39,184.77 L173.89,184.68 L174.39,184.58 L174.89,184.49 L175.39,184.39 L175.89,184.29 L176.40,184.19 L176.90,184.08 L177.40,183.98 L177.90,183.88 L178.40,183.77 L178.91,183.66 L179.41,183.55 L179.91,183.44 L180.41,183.33 L180.91,183.22 L181.41,183.10 L181.92,182.99 L182.42,182.87 L182.92,182.75 L183.42,182.63 L183.92,182.51 L184.42,182.38 L184.93,182.25 L185.43,182.13 L185.93,182.00 L186.43,181.86 L186.93,181.73 L187.43,181.59 L187.93,181.46 L188.44,181.32 L188.94,181.17 L189.44,181.03 L189.94,180.88 L190.44,180.73 L190.94,180.58 L191.45,180.43 L191.95,180.27 L192.45,180.11 L192.95,179.95 L193.45,179.79 L193.95,179.62 L194.46,179.45 L194.96,179.28 L195.46,179.11 L195.96,178.93 L196.46,178.75 L196.97,178.57 L197.47,178.38 L197.97,178.19 L198.47,178.00 L198.97,177.80 L199.47,177.60 L199.97,177.40 L200.48,177.19 L200.98,176.98 L201.48,176.77 L201.98,176.55 L202.48,176.33 L202.99,176.10 L203.49,175.87 L203.99,175.64 L204.49,175.40 L204.99,175.16 L205.49,174.92 L206.00,174.67 L206.50,174.42 L207.00,174.16 L207.50,173.90 L208.00,173.64 L208.50,173.37 L209.00,173.09 L209.51,172.81 L210.01,172.53 L210.51,172.24 L211.01,171.94 L211.51,171.65 L212.01,171.34 L212.52,171.03 L213.02,170.71 L213.52,170.39 L214.02,170.07 L214.52,169.73 L215.02,169.40 L215.53,169.05 L216.03,168.70 L216.53,168.34 L217.03,167.98 L217.53,167.61 L218.03,167.23 L218.54,166.84 L219.04,166.45 L219.54,166.05 L220.04,165.65 L220.54,165.23 L221.04,164.81 L221.55,164.38 L222.05,163.94 L222.55,163.50 L223.05,163.04 L223.55,162.58 L224.06,162.11 L224.56,161.63 L225.06,161.14 L225.56,160.64 L226.06,160.13 L226.56,159.61 L227.06,159.09 L227.57,158.55 L228.07,158.00 L228.57,157.44 L229.07,156.87 L229.57,156.29 L230.07,155.70 L230.58,155.10 L231.08,154.48 L231.58,153.86 L232.08,153.22 L232.58,152.57 L233.09,151.91 L233.59,151.24 L234.09,150.55 L234.59,149.85 L235.09,149.14 L235.59,148.41 L236.09,147.68 L236.60,146.93 L237.10,146.16 L237.60,145.39 L238.10,144.60 L238.60,143.79 L239.10,142.98 L239.61,142.15 L240.11,141.31 L240.61,140.45 L241.11,139.58 L241.61,138.70 L242.11,137.80 L242.62,136.89 L243.12,135.96 L243.62,135.03 L244.12,134.08 L244.62,133.11 L245.12,132.14 L245.63,131.15 L246.13,130.14 L246.63,129.13 L247.13,128.10 L247.63,127.06 L248.13,126.01 L248.64,124.95 L249.14,123.87 L249.64,122.78 L250.14,121.69 L250.64,120.58 L251.15,119.46 L251.65,118.33 L252.15,117.19 L252.65,116.04 L253.15,114.88 L253.65,113.71 L254.16,112.53 L254.66,111.34 L255.16,110.14 L255.66,108.93 L256.16,107.71 L256.66,106.48 L257.16,105.25 L257.67,104.00 L258.17,102.74 L258.67,101.48 L259.17,100.20 L259.67,98.91 L260.17,97.61 L260.68,96.30 L261.18,94.98 L261.68,93.64 L262.18,92.29 L262.68,90.93 L263.19,89.55 L263.69,88.16 L264.19,86.76 L264.69,85.34 L265.19,83.90 L265.69,82.44 L266.19,80.97 L266.70,79.48 L267.20,77.97 L267.70,76.44 L268.20,74.89 L268.70,73.32 L269.21,71.73 L269.71,70.11 L270.21,68.47 L270.71,66.81 L271.21,65.12 L271.71,63.40 L272.22,61.65 L272.72,59.87 L273.22,58.07 L273.72,56.23 L274.22,54.35 L274.72,52.45 L275.23,50.51 L275.73,48.53 L276.23,46.51 L276.73,44.45 L277.23,42.35 L277.73,40.21 L278.24,38.02 L278.74,35.79 L279.24,33.51 L279.74,31.18 L280.24,28.80 L280.74,26.36 L281.25,23.87 L281.75,21.32 L282.25,18.71 L282.75,16.05 L283.25,13.31 L283.75,10.52 L284.25,7.65 L284.76,4.71 L285.26,1.70 L285.76,-1.39 L286.26,-4.56 L286.76,-7.82 L287.26,-11.17 L287.77,-14.61 L288.27,-18.14 L288.77,-21.79 L289.27,-25.53 L289.77,-29.39 L290.27,-33.37 L290.78,-37.48 L291.28,-41.71 L291.78,-46.09" stroke="#8778B3"/>
</g>
<path d="M57.00,201.00 v-4.00 M57.00,7.30 v4.00 M107.17,201.00 v-4.00 M107.17,7.30 v4.00 M157.33,201.00 v-4.00 M157.33,7.30 v4.00 M207.50,201.00 v-4.00 M207.50,7.30 v4.00 M257.67,201.00 v-4.00 M257.67,7.30 v4.00 M307.83,201.00 v-4.00 M307.83,7.30 v4.00 M358.00,201.00 v-4.00 M358.00,7.30 v4.00 M50.50,200.95 h4.00 M364.50,200.95 h-4.00 M50.50,152.50 h4.00 M364.50,152.50 h-4.00 M50.50,104.05 h4.00 M364.50,104.05 h-4.00 M50.50,55.60 h4.00 M364.50,55.60 h-4.00 M50.50,7.15 h4.00 M364.50,7.15 h-4.00" stroke="#8c8c8c" stroke-width="0.9" fill="none"/>
<path d="M67.03,201.00 v-2.30 M67.03,7.30 v2.30 M77.07,201.00 v-2.30 M77.07,7.30 v2.30 M87.10,201.00 v-2.30 M87.10,7.30 v2.30 M97.13,201.00 v-2.30 M97.13,7.30 v2.30 M117.20,201.00 v-2.30 M117.20,7.30 v2.30 M127.23,201.00 v-2.30 M127.23,7.30 v2.30 M137.27,201.00 v-2.30 M137.27,7.30 v2.30 M147.30,201.00 v-2.30 M147.30,7.30 v2.30 M167.37,201.00 v-2.30 M167.37,7.30 v2.30 M177.40,201.00 v-2.30 M177.40,7.30 v2.30 M187.43,201.00 v-2.30 M187.43,7.30 v2.30 M197.47,201.00 v-2.30 M197.47,7.30 v2.30 M217.53,201.00 v-2.30 M217.53,7.30 v2.30 M227.57,201.00 v-2.30 M227.57,7.30 v2.30 M237.60,201.00 v-2.30 M237.60,7.30 v2.30 M247.63,201.00 v-2.30 M247.63,7.30 v2.30 M267.70,201.00 v-2.30 M267.70,7.30 v2.30 M277.73,201.00 v-2.30 M277.73,7.30 v2.30 M287.77,201.00 v-2.30 M287.77,7.30 v2.30 M297.80,201.00 v-2.30 M297.80,7.30 v2.30 M317.87,201.00 v-2.30 M317.87,7.30 v2.30 M327.90,201.00 v-2.30 M327.90,7.30 v2.30 M337.93,201.00 v-2.30 M337.93,7.30 v2.30 M347.97,201.00 v-2.30 M347.97,7.30 v2.30 M50.50,191.26 h2.30 M364.50,191.26 h-2.30 M50.50,181.57 h2.30 M364.50,181.57 h-2.30 M50.50,171.88 h2.30 M364.50,171.88 h-2.30 M50.50,162.19 h2.30 M364.50,162.19 h-2.30 M50.50,142.81 h2.30 M364.50,142.81 h-2.30 M50.50,133.12 h2.30 M364.50,133.12 h-2.30 M50.50,123.43 h2.30 M364.50,123.43 h-2.30 M50.50,113.74 h2.30 M364.50,113.74 h-2.30 M50.50,94.36 h2.30 M364.50,94.36 h-2.30 M50.50,84.67 h2.30 M364.50,84.67 h-2.30 M50.50,74.98 h2.30 M364.50,74.98 h-2.30 M50.50,65.29 h2.30 M364.50,65.29 h-2.30 M50.50,45.91 h2.30 M364.50,45.91 h-2.30 M50.50,36.22 h2.30 M364.50,36.22 h-2.30 M50.50,26.53 h2.30 M364.50,26.53 h-2.30 M50.50,16.84 h2.30 M364.50,16.84 h-2.30" stroke="#8c8c8c" stroke-width="0.85" fill="none"/>
<rect x="50.50" y="7.30" width="314.00" height="193.70" fill="none" stroke="#969696" stroke-width="1"/>
<g font-family="'Liberation Sans', sans-serif" font-size="12" fill="#5c5c5c">
<text x="53.21" y="215.45">0</text>
<path transform="translate(103.38,215.45) scale(0.00586,-0.00586)" d="M763 0H583V1147Q518 1085 412.5 1023T223 930V1104Q374 1175 487 1276T647 1472H763Z"/>
<text x="153.55" y="215.45">2</text>
<text x="203.71" y="215.45">3</text>
<text x="253.88" y="215.45">4</text>
<text x="304.05" y="215.45">5</text>
<text x="354.21" y="215.45">6</text>
<path transform="translate(30.52,11.35) scale(0.00586,-0.00586)" d="M763 0H583V1147Q518 1085 412.5 1023T223 930V1104Q374 1175 487 1276T647 1472H763Z"/><text x="37.19" y="11.35">.</text><text x="40.53" y="11.35">0</text>
<text x="30.52" y="60.25">0</text><text x="37.19" y="60.25">.</text><text x="40.53" y="60.25">5</text>
<text x="30.52" y="108.10">0</text><text x="37.19" y="108.10">.</text><text x="40.53" y="108.10">0</text>
<text x="22.21" y="156.85" textLength="6.80" lengthAdjust="spacingAndGlyphs">−</text><text x="30.52" y="156.85">0</text><text x="37.19" y="156.85">.</text><text x="40.53" y="156.85">5</text>
<text x="22.21" y="205.10" textLength="6.80" lengthAdjust="spacingAndGlyphs">−</text><path transform="translate(30.52,205.10) scale(0.00586,-0.00586)" d="M763 0H583V1147Q518 1085 412.5 1023T223 930V1104Q374 1175 487 1276T647 1472H763Z"/><text x="37.19" y="205.10">.</text><text x="40.53" y="205.10">0</text>
<text x="207.1" y="235.8" text-anchor="middle">d</text>
<text transform="translate(10.7,109.6) rotate(-90)" font-style="italic">μ</text>
<text transform="translate(16.5,102.9) rotate(-90)" font-size="10">*</text>
</g>
</svg>
</div></body></html>
